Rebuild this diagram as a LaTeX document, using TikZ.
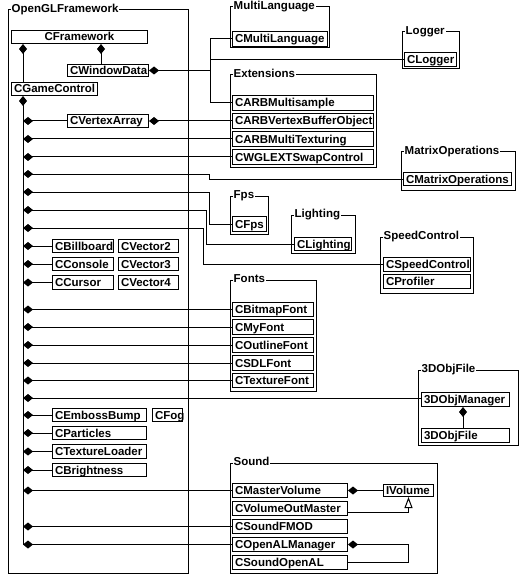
\documentclass[tikz,border=0pt]{standalone}
\usepackage{fontspec}
\setmainfont{Liberation Sans}
\usetikzlibrary{arrows.meta}
\newcommand\fsz{\fontsize{11.5}{13}\selectfont\bfseries}
\tikzset{
  cls/.style={draw, line width=1pt, inner sep=0pt, anchor=north west, font=\fsz, text height=9pt, text depth=1pt},
  pkg/.style={draw, line width=1pt},
  ptitle/.style={fill=white, inner xsep=1pt, inner ysep=0.5pt, anchor=base west, font=\fsz},
  conn/.style={line width=1pt},
  comp/.style={conn, {Diamond[length=10pt,width=8pt]}-},
  inh/.style={conn, -{Triangle[open,length=11pt,width=8pt]}},
}
% [alignment] name, x1, y1, x2, y2, text
\newcommand\cbox[7][l]{%
  \pgfmathsetmacro\bw{#5-#3}\pgfmathsetmacro\bh{#6-#4}%
  \node[cls, minimum width=\bw pt, minimum height=\bh pt] (#2) at (#3,#4)
    {\makebox[\bw pt][#1]{\hspace{2.5pt}#7\hspace{2.5pt}}};}
\newcommand\pkgbox[6]{%
  \draw[pkg] (#2,#3) rectangle (#4,#5);
  \node[ptitle] (#1) at (#2+2.5,#3+2.5) {#6};}
\begin{document}
\begin{tikzpicture}[x=1pt,y=-1pt]
\fill[white] (0,0) rectangle (520,580);
\useasboundingbox (0,0) rectangle (520,580);
% packages
\pkgbox{pOGL}{8}{10}{188}{573}{OpenGLFramework}
\pkgbox{pML}{230}{7}{329}{48}{MultiLanguage}
\pkgbox{pLog}{402}{32}{459}{69}{Logger}
\pkgbox{pExt}{230}{75}{376}{167}{Extensions}
\pkgbox{pMat}{401}{152}{515}{190}{MatrixOperations}
\pkgbox{pFps}{230}{196}{268}{234}{Fps}
\pkgbox{pLight}{291}{215}{355}{253}{Lighting}
\pkgbox{pSpeed}{380}{237}{473}{293}{SpeedControl}
\pkgbox{pFonts}{230}{280}{316}{391}{Fonts}
\pkgbox{pObj}{418}{370}{518}{445}{3DObjFile}
\pkgbox{pSound}{230}{463}{437}{573}{Sound}
% classes in OpenGLFramework
\cbox[c]{CFramework}{11}{30}{147}{43}{CFramework}
\cbox{CWindowData}{67}{64}{148}{76}{CWindowData}
\cbox{CGameControl}{11}{82}{97}{95}{CGameControl}
\cbox{CVertexArray}{67}{114}{148}{127}{CVertexArray}
\cbox{CBillboard}{52}{239}{113}{252}{CBillboard}
\cbox{CVector2}{118}{239}{178}{252}{CVector2}
\cbox{CConsole}{52}{257}{113}{270}{CConsole}
\cbox{CVector3}{118}{257}{178}{270}{CVector3}
\cbox{CCursor}{52}{275}{113}{289}{CCursor}
\cbox{CVector4}{118}{275}{178}{289}{CVector4}
\cbox{CEmbossBump}{52}{408}{146}{421}{CEmbossBump}
\cbox{CFog}{152}{408}{182}{421}{CFog}
\cbox{CParticles}{52}{426}{146}{439}{CParticles}
\cbox{CTextureLoader}{52}{444}{146}{458}{CTextureLoader}
\cbox{CBrightness}{52}{463}{146}{476}{CBrightness}
% classes in other packages
\cbox{CMultiLanguage}{232}{31}{327}{46}{CMultiLanguage}
\cbox{CLogger}{404}{52}{456}{66}{CLogger}
\cbox{CARBMultisample}{232}{95}{373}{110}{CARBMultisample}
\cbox{CARBVBO}{232}{113}{373}{128}{CARBVertexBufferObject}
\cbox{CARBMultiTexturing}{232}{131}{373}{146}{CARBMultiTexturing}
\cbox{CWGLEXTSwapControl}{232}{149}{373}{164}{CWGLEXTSwapControl}
\cbox{CMatrixOperations}{403}{172}{511}{185}{CMatrixOperations}
\cbox{CFps}{232}{216}{266}{231}{CFps}
\cbox{CLighting}{294}{237}{351}{250}{CLighting}
\cbox{CSpeedControl}{383}{257}{470}{271}{CSpeedControl}
\cbox{CProfiler}{383}{274}{470}{288}{CProfiler}
\cbox{CBitmapFont}{232}{302}{313}{316}{CBitmapFont}
\cbox{CMyFont}{232}{319}{313}{334}{CMyFont}
\cbox{COutlineFont}{232}{337}{313}{352}{COutlineFont}
\cbox{CSDLFont}{232}{355}{313}{370}{CSDLFont}
\cbox{CTextureFont}{232}{373}{313}{387}{CTextureFont}
\cbox{objmgr}{421}{392}{509}{406}{3DObjManager}
\cbox{objfile}{421}{428}{509}{442}{3DObjFile}
\cbox{CMasterVolume}{232}{483}{347}{497}{CMasterVolume}
\cbox{CVolumeOutMaster}{232}{501}{347}{515}{CVolumeOutMaster}
\cbox{CSoundFMOD}{232}{519}{347}{533}{CSoundFMOD}
\cbox{COpenALManager}{232}{537}{347}{551}{COpenALManager}
\cbox{CSoundOpenAL}{232}{555}{347}{569}{CSoundOpenAL}
\cbox{IVolume}{383}{484}{433}{496}{IVolume}
% helper coordinates
\coordinate (tx) at (23,0);
\coordinate (wx) at (101,0);
\coordinate (jx) at (210,0);
\coordinate (ox) at (463,0);
\coordinate (sx) at (408,0);
\coordinate (b4) at (209,0);
\coordinate (b6) at (206,0);
\coordinate (b7) at (203,0);
\coordinate (r4) at (23,174);
\coordinate (r5) at (23,192);
\coordinate (r6) at (23,210);
\coordinate (r7) at (23,228);
\coordinate (r16) at (23,398);
% connectors
\draw[comp] (CFramework.south -| tx) -- (CGameControl.north -| tx);
\draw[comp] (CFramework.south -| wx) -- (CWindowData.north -| wx);
\draw[comp] (CWindowData.east) -- (CWindowData.east -| jx);
\draw[conn] (CMultiLanguage.west) -| (jx |- CARBMultisample.west) -- (CARBMultisample.west);
\draw[conn] (CLogger.west) -- (CLogger.west -| jx);
\draw[comp] (CGameControl.south -| tx) -- (tx |- COpenALManager.west);
\draw[comp] (tx |- CVertexArray.west) -- (CVertexArray.west);
\draw[comp] (CVertexArray.east) -- (CARBVBO.west);
\draw[comp] (tx |- CARBMultiTexturing.west) -- (CARBMultiTexturing.west);
\draw[comp] (tx |- CWGLEXTSwapControl.west) -- (CWGLEXTSwapControl.west);
\draw[comp] (r4) -- (r4 -| b4) |- (CMatrixOperations.west);
\draw[comp] (r5) -- (r5 -| b4) |- (CFps.west);
\draw[comp] (r6) -- (r6 -| b6) |- (CLighting.west);
\draw[comp] (r7) -- (r7 -| b7) |- (CSpeedControl.west);
\foreach \c in {CBillboard,CConsole,CCursor,CBitmapFont,CMyFont,COutlineFont,CSDLFont,CTextureFont,CEmbossBump,CParticles,CTextureLoader,CBrightness,CMasterVolume,CSoundFMOD,COpenALManager}
  \draw[comp] (tx |- \c.west) -- (\c.west);
\draw[comp] (r16) -- (r16 -| objmgr.west) -- (objmgr.west);
\draw[comp] (objmgr.south -| ox) -- (objfile.north -| ox);
\draw[comp] (CMasterVolume.east) -- (IVolume.west);
\draw[inh] ([yshift=-4pt]CVolumeOutMaster.east) -| (IVolume.south);
\draw[comp] (COpenALManager.east) -| (sx |- CSoundOpenAL.east) -- (CSoundOpenAL.east);
\end{tikzpicture}
\end{document}
